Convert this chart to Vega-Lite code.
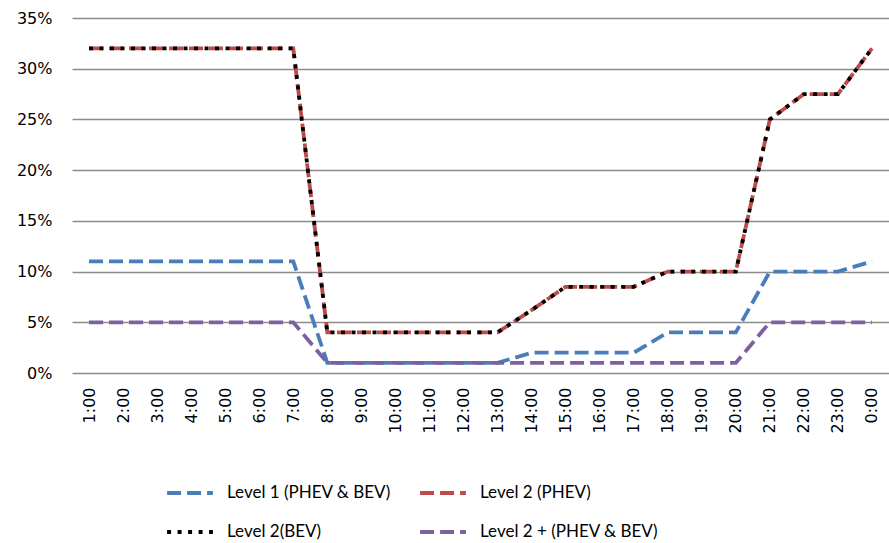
{
  "$schema": "https://vega.github.io/schema/vega-lite/v6.json",
  "autosize": {"type": "none"},
  "padding": {"left": 72, "top": 18, "right": 0, "bottom": 170},
  "width": 817,
  "height": 355,
  "background": "white",
  "data": {"values": [
    {"t":"1:00","i":1,"L1":11,"P":32,"B":32,"L2p":5},
    {"t":"2:00","i":2,"L1":11,"P":32,"B":32,"L2p":5},
    {"t":"3:00","i":3,"L1":11,"P":32,"B":32,"L2p":5},
    {"t":"4:00","i":4,"L1":11,"P":32,"B":32,"L2p":5},
    {"t":"5:00","i":5,"L1":11,"P":32,"B":32,"L2p":5},
    {"t":"6:00","i":6,"L1":11,"P":32,"B":32,"L2p":5},
    {"t":"7:00","i":7,"L1":11,"P":32,"B":32,"L2p":5},
    {"t":"8:00","i":8,"L1":1,"P":4,"B":4,"L2p":1},
    {"t":"9:00","i":9,"L1":1,"P":4,"B":4,"L2p":1},
    {"t":"10:00","i":10,"L1":1,"P":4,"B":4,"L2p":1},
    {"t":"11:00","i":11,"L1":1,"P":4,"B":4,"L2p":1},
    {"t":"12:00","i":12,"L1":1,"P":4,"B":4,"L2p":1},
    {"t":"13:00","i":13,"L1":1,"P":4,"B":4,"L2p":1},
    {"t":"14:00","i":14,"L1":2,"P":6.2,"B":6.2,"L2p":1},
    {"t":"15:00","i":15,"L1":2,"P":8.5,"B":8.5,"L2p":1},
    {"t":"16:00","i":16,"L1":2,"P":8.5,"B":8.5,"L2p":1},
    {"t":"17:00","i":17,"L1":2,"P":8.5,"B":8.5,"L2p":1},
    {"t":"18:00","i":18,"L1":4,"P":10,"B":10,"L2p":1},
    {"t":"19:00","i":19,"L1":4,"P":10,"B":10,"L2p":1},
    {"t":"20:00","i":20,"L1":4,"P":10,"B":10,"L2p":1},
    {"t":"21:00","i":21,"L1":10,"P":25,"B":25,"L2p":5},
    {"t":"22:00","i":22,"L1":10,"P":27.5,"B":27.5,"L2p":5},
    {"t":"23:00","i":23,"L1":10,"P":27.5,"B":27.5,"L2p":5},
    {"t":"0:00","i":24,"L1":11,"P":32,"B":32,"L2p":5}
  ]},
  "transform": [
    {"fold": ["L1", "P", "B", "L2p"], "as": ["key", "v"]},
    {"lookup": "key", "from": {"data": {"values": [
      {"key":"L1","series":"Level 1 (PHEV & BEV)"},
      {"key":"P","series":"Level 2 (PHEV)"},
      {"key":"B","series":"Level 2(BEV)"},
      {"key":"L2p","series":"Level 2 + (PHEV & BEV)"}
    ]}, "key": "key", "fields": ["series"]}},
    {"calculate": "datum.v / 100", "as": "pct"}
  ],
  "config": {
    "view": {"stroke": null}
  },
  "layer": [
    {
      "transform": [{"filter": "datum.key != 'B'"}],
      "mark": {"type": "line", "strokeWidth": 3.8},
      "encoding": {
        "x": {"field": "t", "type": "ordinal", "sort": {"field": "i"},
              "scale": {"type": "point", "padding": 0.5},
              "axis": {"title": null, "labelAngle": -90, "labelAlign": "right", "labelBaseline": "middle", "labelPadding": 14, "ticks": false, "domain": false, "grid": false,
                       "labelFont": "DejaVu Sans", "labelFontSize": 16, "labelColor": "#000000"}},
        "y": {"field": "pct", "type": "quantitative",
              "scale": {"domain": [0, 0.35]},
              "axis": {"title": null, "format": ".0%", "values": [0,0.05,0.1,0.15,0.2,0.25,0.3,0.35], "ticks": false, "domain": false, "labelPadding": 20, "gridColor": "#8c8c8c", "gridWidth": 1.5,
                       "labelFont": "DejaVu Sans", "labelFontSize": 16, "labelColor": "#000000"}},
        "color": {"field": "series", "type": "nominal",
                  "scale": {"domain": ["Level 1 (PHEV & BEV)", "Level 2(BEV)", "Level 2 (PHEV)", "Level 2 + (PHEV & BEV)"],
                            "range": ["#4a7ebb", "#000000", "#be4b48", "#7d60a0"]},
                  "legend": {"title": null, "orient": "none", "legendX": 93, "legendY": 450, "columns": 2, "padding": 0,
                             "symbolType": "stroke", "symbolSize": 2100, "symbolStrokeWidth": 3.8,
                             "labelFont": "Lato", "labelFontSize": 17, "labelColor": "#000000", "labelOffset": 12, "labelLimit": 400,
                             "columnPadding": 21, "rowPadding": 6}},
        "strokeDash": {"field": "series", "type": "nominal",
                  "scale": {"domain": ["Level 1 (PHEV & BEV)", "Level 2(BEV)", "Level 2 (PHEV)", "Level 2 + (PHEV & BEV)"],
                            "range": [[14, 6], [4, 6.5], [14, 6], [14, 6]]},
                  "legend": null},
        "order": {"field": "i"}
      }
    },
    {
      "transform": [{"filter": "datum.key == 'B'"}],
      "mark": {"type": "line", "strokeWidth": 3.8},
      "encoding": {
        "x": {"field": "t", "type": "ordinal", "sort": {"field": "i"}},
        "y": {"field": "pct", "type": "quantitative"},
        "color": {"field": "series", "type": "nominal"},
        "strokeDash": {"field": "series", "type": "nominal"},
        "order": {"field": "i"}
      }
    }
  ]
}
